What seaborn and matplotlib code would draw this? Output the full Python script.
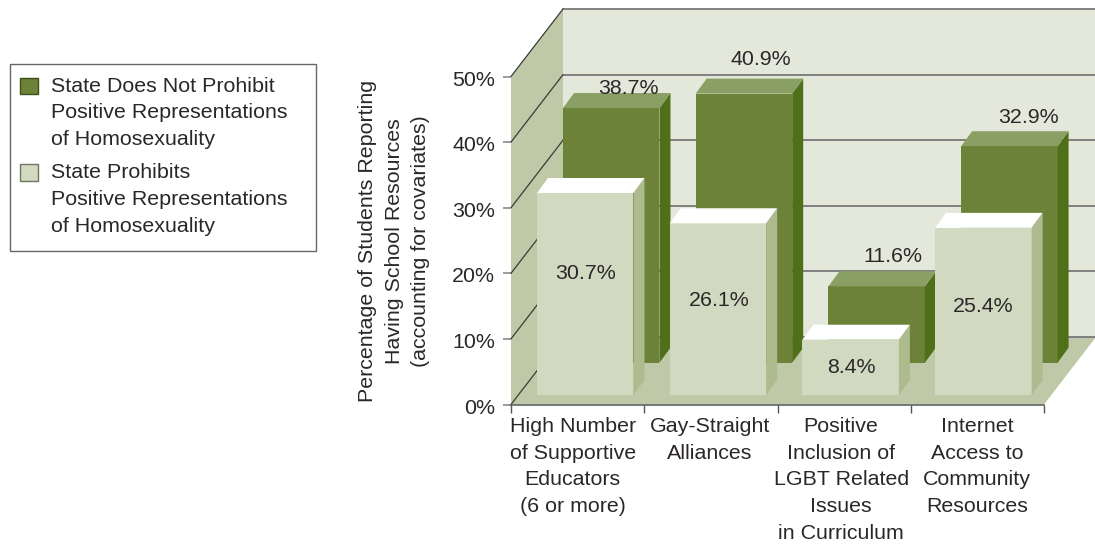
import matplotlib
matplotlib.use("Agg")
import matplotlib.pyplot as plt
from matplotlib.patches import Patch, Polygon, Rectangle
from matplotlib.transforms import ScaledTranslation
import pandas as pd
import seaborn as sns

# ---- data ----
categories = ["High Number\nof Supportive\nEducators\n(6 or more)",
              "Gay-Straight\nAlliances",
              "Positive\nInclusion of\nLGBT Related\nIssues\nin Curriculum",
              "Internet\nAccess to\nCommunity\nResources"]
not_prohibit = [38.7, 40.9, 11.6, 32.9]
prohibit = [30.7, 26.1, 8.4, 25.4]
yticks = [0, 10, 20, 30, 40, 50]
series_back = "State Does Not Prohibit\nPositive Representations\nof Homosexuality"
series_front = "State Prohibits\nPositive Representations\nof Homosexuality"
ylabel = "Percentage of Students Reporting\nHaving School Resources\n(accounting for covariates)"

# ---- styles ----
W, H = 1095, 544
FS = 15.4
INK = "#2b2728"
BACK = dict(face="#6b8238", side="#4f7018", top="#8a9f63")
FRONT = dict(face="#d2d9c1", side="#aebb8f", top="#ffffff")
WALL, SIDEWALL = "#e3e8da", "#bfc9a7"
GRID = "#808080"
label_off_back = [(17.5, 20), (16.5, 34), (16.5, 30), (19.5, 29)]
label_off_front = [(0, -81), (1.5, -77), (1, -28), (0, -79)]
tick_shift = [-5, -1, -3, 0]
LS = 1.51

sns.set_theme(style="white")
plt.rcParams["font.family"] = ["Liberation Sans", "DejaVu Sans"]
plt.rcParams["text.color"] = INK

fig = plt.figure(figsize=(W / 100, H / 100), dpi=100)


def rect(x0, base, w, h):
    return [x0 / W, 1 - base / H, w / W, h / H]


df = pd.DataFrame({"category": categories * 2,
                   "value": not_prohibit + prohibit,
                   "series": [series_back] * 4 + [series_front] * 4})

# ---- main axes carrying ticks, walls and floor ----
ax = fig.add_axes(rect(511, 404.5, 533, 328))
ax.set_xlim(-0.5, 3.5)
ax.set_ylim(0, 50)
ax.patch.set_visible(False)
sx, sy = 4 / 533, 50 / 328          # data units per pixel
ddx, ddy = 52 * sx, 67.5 * sy       # depth of the box
x0, x1 = -0.5, 3.5
ax.add_patch(Polygon([(x0 + ddx, ddy), (x1 + ddx, ddy), (x1 + ddx, 50 + ddy), (x0 + ddx, 50 + ddy)],
                     fc=WALL, ec="none", clip_on=False, zorder=1))
ax.add_patch(Polygon([(x0, 0), (x0 + ddx, ddy), (x0 + ddx, 50 + ddy), (x0, 50)],
                     fc=SIDEWALL, ec="none", clip_on=False, zorder=1))
ax.add_patch(Polygon([(x0, 0), (x1, 0), (x1 + ddx, ddy), (x0 + ddx, ddy)],
                     fc=SIDEWALL, ec="none", clip_on=False, zorder=1))
for t in yticks:
    ax.plot([x0 + ddx, x1 + ddx], [t + ddy, t + ddy], color=GRID, lw=1.4, clip_on=False, zorder=2)
    ax.plot([x0, x0 + ddx], [t, t + ddy], color="#3a3a3a", lw=0.9, clip_on=False, zorder=2)

for s in ["top", "right", "left"]:
    ax.spines[s].set_visible(False)
ax.spines["bottom"].set_color("#555555")
ax.spines["bottom"].set_linewidth(1.1)
ax.spines["bottom"].set_zorder(3)
ax.set_yticks(yticks)
ax.set_yticklabels([f"{t}%" for t in yticks], fontsize=FS, color=INK)
ax.tick_params(axis="y", length=6, width=1.1, color=GRID, pad=5.5, left=True)
for lbl in ax.get_yticklabels():
    lbl.set_transform(lbl.get_transform() + ScaledTranslation(0, -1.5 / 100, fig.dpi_scale_trans))
ax.set_xticks(range(4))
ax.set_xticklabels(categories, fontsize=FS, color=INK, linespacing=LS, va="top")
ax.set_xticks([-0.5, 0.5, 1.5, 2.5, 3.5], minor=True)
ax.tick_params(axis="x", which="major", length=0, pad=9, bottom=False)
ax.tick_params(axis="x", which="minor", length=6, width=1, color="#555555", bottom=True)
for lbl, shift in zip(ax.get_xticklabels(), tick_shift):
    lbl.set_transform(lbl.get_transform() + ScaledTranslation(shift / 100, 0, fig.dpi_scale_trans))
ax.set_ylabel(ylabel, fontsize=FS, color=INK, linespacing=LS, va="center", ha="center")
ax.yaxis.set_label_coords((394 - 511) / 533, (404.5 - 241) / 328)


def bars(series, style, offs, x_left, base):
    b = fig.add_axes(rect(x_left, base, 530.8, 329))
    sub = df[df["series"] == series]
    sns.barplot(data=sub, x="category", y="value", color=style["face"], saturation=1,
                width=0.727, linewidth=0, ax=b)
    b.set_xlim(-0.5, 3.5)
    b.set_ylim(0, 50)
    b.axis("off")
    b.patch.set_visible(False)
    px, py = 4 / 530.8, 50 / 329
    dx, dy = 11 * px, 15 * py
    for p, val, off in zip(b.patches, sub["value"], offs):
        l, r, h = p.get_x(), p.get_x() + p.get_width(), p.get_height()
        b.add_patch(Polygon([(r, 0), (r + dx, dy), (r + dx, h + dy), (r, h)],
                            fc=style["side"], ec="none", clip_on=False))
        b.add_patch(Polygon([(l, h), (r, h), (r + dx, h + dy), (l + dx, h + dy)],
                            fc=style["top"], ec="none", clip_on=False))
        b.annotate(f"{val:.1f}%", xy=((l + r) / 2, h), xytext=off, textcoords="offset pixels",
                   ha="center", va="center", fontsize=FS, color=INK, annotation_clip=False, zorder=6)
    return b


bars(series_back, BACK, label_off_back, 544.9, 362.7)
bars(series_front, FRONT, label_off_front, 518.9, 395)

# ---- legend ----
fig.add_artist(Rectangle((9.5 / W, 1 - 250.7 / H), 306 / W, 187.2 / H, transform=fig.transFigure,
                         fc="white", ec="#666666", lw=1, zorder=1))
handles = [Patch(fc=BACK["face"], ec="#3f4f1c", lw=1, label=series_back),
           Patch(fc=FRONT["face"], ec="#6f7560", lw=1, label=series_front)]
leg = fig.legend(handles=handles, loc="upper left",
                 bbox_to_anchor=(6.5 / W, 1 - 63.5 / H), bbox_transform=fig.transFigure,
                 fontsize=FS, frameon=False,
                 handlelength=0.85, handleheight=0.8, handletextpad=0.62, labelspacing=0.67,
                 borderaxespad=0, borderpad=0.62, labelcolor=INK)
leg.set_zorder(2)
for t in leg.get_texts():
    t.set_linespacing(LS)
for hd in leg.legend_handles:
    hd.set_y(hd.get_y() + 27 * 0.72)

fig.savefig("out.png", dpi=100)
